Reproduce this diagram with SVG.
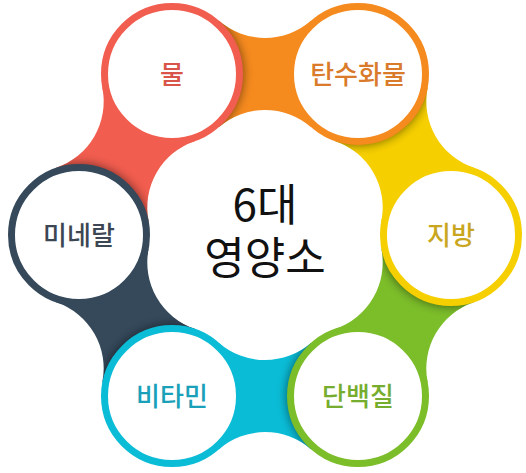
<svg xmlns="http://www.w3.org/2000/svg" width="526" height="473" viewBox="0 0 526 473">
  <style>
    .ring { fill: #ffffff; stroke-width: 7; }
    .lbl { font-family: "Noto Sans CJK KR", "Noto Sans", sans-serif; font-size: 26px; font-weight: 500; text-anchor: middle; }
    .title { font-family: "Noto Sans CJK KR", "Noto Sans", sans-serif; font-size: 44px; font-weight: 400; text-anchor: middle; fill: #111111; }
    .shadow { fill: #000000; opacity: 0.45; }
  </style>
  <defs>
    <path id="band" d="M214.46,-46.19 A70.06,70.06 0 0 0 214.46,46.19 L161.08,93 L107.70,46.19 A70.06,70.06 0 0 0 107.70,-46.19 L161.08,-93 Z"/>
    <clipPath id="bandClip" clipPathUnits="userSpaceOnUse">
      <use href="#band"/>
    </clipPath>
    <filter id="blur" x="-20%" y="-20%" width="140%" height="140%">
      <feGaussianBlur stdDeviation="5"/>
    </filter>
  </defs>
  <rect width="526" height="473" fill="#ffffff"/>

  <g id="connectors">
    <g transform="translate(265,235) rotate(-30)">
      <use href="#band" fill="#f5cf00"/>
      <circle class="shadow" cx="161.08" cy="-93" r="72" filter="url(#blur)" clip-path="url(#bandClip)"/>
    </g>
    <g transform="translate(265,235) rotate(30)">
      <use href="#band" fill="#7cbd2a"/>
      <circle class="shadow" cx="161.08" cy="-93" r="72" filter="url(#blur)" clip-path="url(#bandClip)"/>
    </g>
    <g transform="translate(265,235) rotate(90)">
      <use href="#band" fill="#0bbcd6"/>
      <circle class="shadow" cx="161.08" cy="-93" r="72" filter="url(#blur)" clip-path="url(#bandClip)"/>
    </g>
    <g transform="translate(265,235) rotate(150)">
      <use href="#band" fill="#35495b"/>
      <circle class="shadow" cx="161.08" cy="-93" r="72" filter="url(#blur)" clip-path="url(#bandClip)"/>
    </g>
    <g transform="translate(265,235) rotate(210)">
      <use href="#band" fill="#f15d4f"/>
      <circle class="shadow" cx="161.08" cy="-93" r="72" filter="url(#blur)" clip-path="url(#bandClip)"/>
    </g>
    <g transform="translate(265,235) rotate(270)">
      <use href="#band" fill="#f58a1f"/>
      <circle class="shadow" cx="161.08" cy="-93" r="72" filter="url(#blur)" clip-path="url(#bandClip)"/>
    </g>
  </g>

  <g id="center">
    <text class="title"><tspan x="265" y="221">6대</tspan><tspan x="265" y="274">영양소</tspan></text>
  </g>

  <g id="node-water">
    <circle class="ring" cx="172" cy="73.92" r="67.5" stroke="#f15d4f"/>
    <text class="lbl" x="172" y="84" fill="#d9554a">물</text>
  </g>
  <g id="node-carb">
    <circle class="ring" cx="358" cy="73.92" r="67.5" stroke="#f58a1f"/>
    <text class="lbl" x="358" y="84" fill="#d97b2b">탄수화물</text>
  </g>
  <g id="node-fat">
    <circle class="ring" cx="451" cy="235" r="67.5" stroke="#f5cf00"/>
    <text class="lbl" x="451" y="245" fill="#c9a620">지방</text>
  </g>
  <g id="node-protein">
    <circle class="ring" cx="358" cy="396.08" r="67.5" stroke="#7cbd2a"/>
    <text class="lbl" x="358" y="406" fill="#76ad2e">단백질</text>
  </g>
  <g id="node-vitamin">
    <circle class="ring" cx="172" cy="396.08" r="67.5" stroke="#0bbcd6"/>
    <text class="lbl" x="172" y="406" fill="#1aa0b9">비타민</text>
  </g>
  <g id="node-mineral">
    <circle class="ring" cx="79" cy="235" r="67.5" stroke="#35495b"/>
    <text class="lbl" x="79" y="245" fill="#3d4754">미네랄</text>
  </g>
</svg>
